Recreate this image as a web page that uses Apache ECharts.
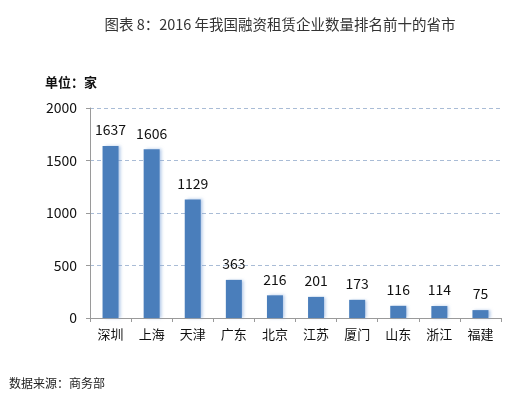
<!DOCTYPE html>
<html>
<head>
<meta charset="utf-8">
<script src="https://cdn.jsdelivr.net/npm/echarts@6/dist/echarts.min.js"></script>
<style>
  html, body { margin: 0; padding: 0; background: #fff; }
  #chartBox { width: 524px; height: 399px; }
</style>
</head>
<body>
<div id="chartBox"></div>
<script>
// 省市 + 企业数量（家）
const categories = ["深圳", "上海", "天津", "广东", "北京", "江苏", "厦门", "山东", "浙江", "福建"];
const counts = [1637, 1606, 1129, 363, 216, 201, 173, 116, 114, 75];
const yTicks = [0, 500, 1000, 1500, 2000];

const font = '"Noto Sans CJK SC", "Noto Sans", sans-serif';

const myChart = echarts.init(document.getElementById("chartBox"));

const option = {
  backgroundColor: "#fff",
  animation: false,
  title: [
    {
      text: "图表 8：2016 年我国融资租赁企业数量排名前十的省市",
      left: 275,
      top: 12,
      textAlign: "center",
      textStyle: { fontFamily: font, fontSize: 14.5, fontWeight: "normal", color: "#333" },
    },
    {
      text: "单位：家",
      left: 40,
      top: 71,
      textStyle: { fontFamily: font, fontSize: 13, fontWeight: "bold", color: "#111" },
    },
    {
      text: "数据来源：商务部",
      left: 4,
      top: 372,
      textStyle: { fontFamily: font, fontSize: 12, fontWeight: "normal", color: "#222" },
    },
  ],
  grid: { left: 90, right: 23, top: 108, bottom: 81 },
  xAxis: {
    type: "category",
    data: categories,
    axisLine: { lineStyle: { color: "#9a9a9a", width: 1 } },
    axisTick: { show: true, length: 4, lineStyle: { color: "#9a9a9a" } },
    axisLabel: { fontFamily: font, fontSize: 13, color: "#111", margin: 10 },
  },
  yAxis: {
    type: "value",
    min: yTicks[0],
    max: yTicks[yTicks.length - 1],
    interval: 500,
    axisLine: { show: true, lineStyle: { color: "#9a9a9a" } },
    axisTick: { show: true, length: 4, lineStyle: { color: "#9a9a9a" } },
    axisLabel: {
      fontFamily: font,
      fontSize: 14,
      color: "#111",
      margin: 13,
      formatter: (v) => String(v),
    },
    splitLine: { lineStyle: { color: "#a9bcd6", type: [4, 3] } },
  },
  series: [
    {
      name: "企业数量",
      type: "bar",
      data: counts,
      barWidth: 16,
      itemStyle: {
        color: "#4a7ebb",
        shadowColor: "rgba(120,160,215,0.55)",
        shadowBlur: 3,
        shadowOffsetX: 2,
        shadowOffsetY: 0,
      },
      label: {
        show: true,
        position: "top",
        distance: 9,
        fontFamily: font,
        fontSize: 14,
        color: "#111",
      },
    },
  ],
};

myChart.setOption(option);
</script>
</body>
</html>
